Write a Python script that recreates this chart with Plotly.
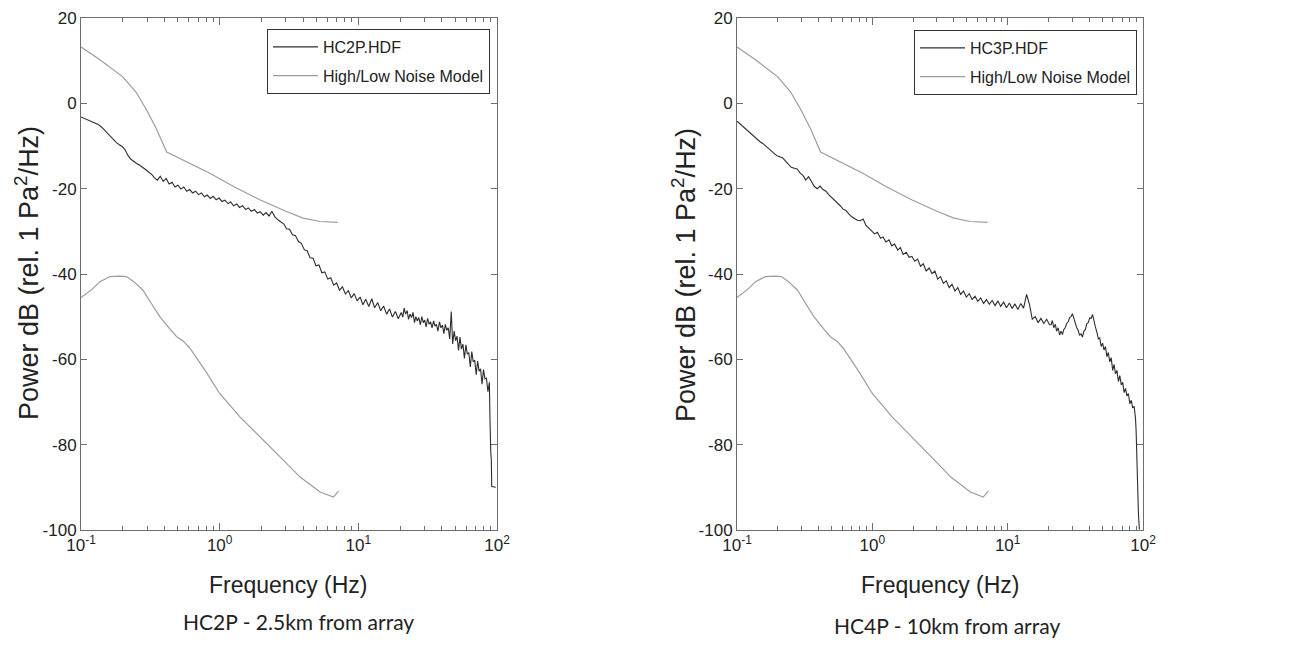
import plotly.graph_objects as go

# shared frequency grid (Hz) for the two measured spectra
freq_grid = [
    0.100, 0.105, 0.110, 0.116, 0.122, 0.128, 0.134, 0.141, 0.148, 0.155,
    0.163, 0.171, 0.180, 0.189, 0.198, 0.208, 0.218, 0.229, 0.240, 0.252,
    0.265, 0.278, 0.292, 0.307, 0.322, 0.338, 0.355, 0.373, 0.392, 0.411,
    0.432, 0.454, 0.476, 0.500, 0.525, 0.551, 0.579, 0.608, 0.638, 0.670,
    0.704, 0.739, 0.776, 0.815, 0.855, 0.898, 0.943, 0.990, 1.04, 1.09,
    1.15, 1.20, 1.26, 1.33, 1.39, 1.46, 1.54, 1.61, 1.69, 1.78,
    1.87, 1.96, 2.06, 2.16, 2.27, 2.38, 2.50, 2.63, 2.76, 2.90,
    3.04, 3.19, 3.35, 3.52, 3.70, 3.88, 4.08, 4.28, 4.49, 4.72,
    4.95, 5.20, 5.46, 5.73, 6.02, 6.32, 6.64, 6.97, 7.32, 7.68,
    8.07, 8.47, 8.89, 9.34, 9.80, 10.3, 10.8, 11.3, 11.9, 12.5,
    13.1, 13.8, 14.5, 15.2, 16.0, 16.8, 17.6, 18.5, 19.4, 20.4,
    20.9, 21.4, 21.9, 22.5, 23.0, 23.6, 24.2, 24.8, 25.4, 26.0,
    26.6, 27.3, 28.0, 28.7, 29.4, 30.1, 30.8, 31.6, 32.4, 33.2,
    34.0, 34.9, 35.7, 36.6, 37.5, 38.5, 39.4, 40.4, 41.4, 42.4,
    43.4, 44.5, 45.6, 46.8, 47.9, 49.1, 50.3, 51.5, 52.8, 54.1,
    55.4, 56.8, 58.2, 59.7, 61.1, 62.6, 64.2, 65.8, 67.4, 69.1,
    70.8, 72.5, 74.3, 76.1, 78.0, 79.9, 81.9, 83.9, 86.0, 88.1,
]

hc2p_db = [
    -3.2, -3.5, -3.8, -4.1, -4.4, -4.7, -5.0, -5.6, -6.3, -7.0,
    -7.8, -8.6, -9.2, -9.7, -10.1, -10.9, -12.2, -13.1, -13.7, -14.1,
    -14.5, -14.9, -15.5, -16.1, -16.6, -17.4, -18.0, -17.1, -18.3, -17.6,
    -18.9, -18.5, -19.6, -19.2, -20.1, -19.6, -20.6, -20.2, -21.0, -20.6,
    -21.4, -21.0, -21.9, -21.5, -22.3, -21.8, -22.6, -22.2, -23.0, -22.7,
    -23.5, -23.1, -24.0, -23.6, -24.4, -24.0, -24.9, -24.5, -25.3, -24.9,
    -25.7, -25.4, -26.2, -25.6, -26.4, -25.3, -26.6, -27.3, -27.9, -28.3,
    -29.4, -29.5, -30.8, -31.0, -32.4, -32.8, -34.3, -34.6, -36.2, -36.3,
    -38.1, -37.9, -39.7, -39.5, -41.2, -40.9, -42.6, -42.1, -43.8, -43.0,
    -44.7, -43.9, -45.6, -44.6, -46.3, -45.4, -47.2, -45.9, -47.6, -45.8,
    -47.9, -46.7, -48.6, -47.5, -49.4, -48.2, -50.1, -48.8, -50.5, -49.0,
    -50.1, -48.0, -49.4, -48.6, -50.6, -49.4, -50.2, -49.0, -51.4, -50.0,
    -51.0, -50.2, -51.9, -50.0, -51.4, -50.8, -52.4, -50.4, -51.8, -51.2,
    -52.6, -51.0, -52.2, -51.8, -53.4, -51.2, -52.6, -52.0, -54.0, -51.8,
    -53.2, -52.6, -55.2, -48.8, -56.4, -53.4, -55.6, -54.6, -57.9, -54.8,
    -57.6, -56.4, -59.8, -56.6, -58.8, -58.4, -61.8, -58.2, -60.6, -60.2,
    -63.6, -60.4, -62.8, -62.2, -65.8, -62.4, -64.6, -64.4, -67.6, -65.4,
]
hc2p_tail_freq = [89.0, 89.5, 90.2, 91.0, 91.6, 98.0]
hc2p_tail_db = [-74.0, -80.5, -82.0, -83.5, -89.8, -90.0]

hc3p_db = [
    -4.2, -4.8, -5.4, -6.1, -6.8, -7.3, -7.9, -8.5, -9.0, -9.4,
    -10.0, -10.8, -11.2, -11.8, -12.3, -12.5, -12.8, -13.6, -14.3, -15.0,
    -15.2, -15.4, -16.3, -16.9, -18.0, -17.2, -18.3, -19.5, -20.0, -19.4,
    -20.2, -20.6, -21.4, -22.0, -22.6, -23.3, -24.0, -24.8, -25.1, -25.9,
    -26.6, -27.0, -27.4, -27.5, -27.1, -28.6, -29.3, -29.8, -30.6, -30.2,
    -31.6, -31.3, -32.5, -32.0, -33.4, -33.0, -34.4, -33.8, -35.4, -34.9,
    -36.1, -35.9, -37.0, -36.5, -38.2, -37.6, -39.3, -38.6, -39.9, -39.3,
    -41.2, -40.6, -42.2, -41.6, -43.2, -42.4, -44.0, -43.2, -44.8, -44.0,
    -45.4, -44.6, -46.0, -45.2, -46.4, -45.6, -46.9, -46.0, -47.1, -46.2,
    -47.4, -46.3, -47.6, -46.6, -47.9, -46.8, -48.1, -47.0, -48.3, -46.9,
    -48.0, -44.8, -47.2, -50.6, -50.0, -51.4, -50.4, -51.6, -50.6, -51.9,
    -51.9, -50.9, -52.6, -51.8, -53.4, -52.6, -54.3, -53.4, -54.2, -53.0,
    -52.6, -51.6, -51.2, -50.2, -50.0, -49.3, -50.4, -51.2, -52.6, -53.2,
    -54.4, -54.0, -54.8, -53.4, -53.0, -51.6, -51.4, -50.3, -50.4, -49.5,
    -51.2, -52.4, -53.6, -55.2, -55.0, -57.0, -56.2, -57.8, -57.0, -59.4,
    -58.4, -60.6, -59.6, -62.6, -61.2, -63.4, -62.6, -65.2, -63.8, -66.0,
    -65.4, -67.8, -66.8, -68.6, -68.0, -70.4, -69.6, -71.4, -71.0, -74.0,
]
hc3p_tail_freq = [89.0, 90.0, 91.0, 92.5, 94.0]
hc3p_tail_db = [-77.0, -85.0, -86.5, -96.0, -99.9]

# high / low noise model
high_freq = [0.1, 0.137, 0.2, 0.25, 0.3, 0.35, 0.415, 0.6, 0.85, 1.26, 1.95, 3.0, 4.0, 5.3, 7.1]
high_db = [13.2, 10.2, 6.2, 2.6, -1.8, -6.0, -11.4, -13.9, -16.4, -19.5, -22.6, -25.3, -26.9, -27.7, -27.9]
low_freq = [0.1, 0.12, 0.137, 0.162, 0.19, 0.213, 0.24, 0.28, 0.32, 0.37, 0.44, 0.49, 0.55,
            0.61, 0.8, 1.0, 1.4, 2.18, 3.0, 3.8, 5.3, 6.6, 7.2]
low_db = [-45.5, -43.6, -41.8, -40.6, -40.5, -40.6, -41.8, -43.8, -46.8, -50.0, -53.0, -54.7, -55.8,
          -57.4, -63.0, -68.0, -73.5, -79.6, -84.2, -87.6, -91.1, -92.3, -90.9]

decade_ticks = [0.1, 1, 10, 100]
decade_labels = ["10<sup>-1</sup>", "10<sup>0</sup>", "10<sup>1</sup>", "10<sup>2</sup>"]
minor_ticks = [0.2, 0.3, 0.4, 0.5, 0.6, 0.7, 0.8, 0.9, 2, 3, 4, 5, 6, 7, 8, 9,
               20, 30, 40, 50, 60, 70, 80, 90]
y_ticks = [20, 0, -20, -40, -60, -80, -100]
y_labels = ["20", "0", "-20", "-40", "-60", "-80", "-100"]

# the page body adds an 8 px margin, so the figure is drawn 8 px in from the corner
OFF = 8
W, H = 1298 - 2 * OFF, 646 - 2 * OFF
dark = "#2e2e2e"
grey = "#9c9c9c"
axis_col = "#6e6e6e"
arial = "Liberation Sans, Arial, sans-serif"


def px_x(px):
    return (px - OFF) / W


def px_y(py):
    return 1 - (py - OFF) / H


fig = go.Figure()


def panel(xa, ya, leg, name, f, db):
    fig.add_trace(go.Scatter(x=f, y=db, mode="lines", name=name, line=dict(color=dark, width=1.1),
                             xaxis=xa, yaxis=ya, legend=leg, legendgroup=name))
    fig.add_trace(go.Scatter(x=high_freq, y=high_db, mode="lines", name="High/Low Noise Model",
                             line=dict(color=grey, width=1.2), xaxis=xa, yaxis=ya, legend=leg,
                             legendgroup="model" + xa))
    fig.add_trace(go.Scatter(x=low_freq, y=low_db, mode="lines", showlegend=False,
                             line=dict(color=grey, width=1.2), xaxis=xa, yaxis=ya, legend=leg,
                             legendgroup="model" + xa))


panel("x", "y", "legend", "HC2P.HDF", freq_grid + hc2p_tail_freq, hc2p_db + hc2p_tail_db)
panel("x2", "y2", "legend2", "HC3P.HDF", freq_grid + hc3p_tail_freq, hc3p_db + hc3p_tail_db)


def xax(x0, x1, anchor):
    return dict(type="log", range=[-1, 2], domain=[px_x(x0), px_x(x1)], anchor=anchor, automargin=False,
                tickvals=decade_ticks, ticktext=decade_labels, ticks="inside", ticklen=7,
                tickcolor=axis_col, showline=True, linecolor=axis_col, linewidth=1,
                mirror="allticks", showgrid=False, zeroline=False,
                minor=dict(tickvals=minor_ticks, ticks="inside", ticklen=4, tickcolor=axis_col, showgrid=False),
                tickfont=dict(family=arial, size=17, color="#222"))


def yax(anchor):
    return dict(range=[-100, 20], domain=[px_y(530), px_y(18)], anchor=anchor, automargin=False,
                tickvals=y_ticks, ticktext=y_labels, ticks="inside", ticklen=6, tickcolor=axis_col,
                showline=True, linecolor=axis_col, linewidth=1, mirror="allticks",
                showgrid=False, zeroline=False,
                tickfont=dict(family=arial, size=17, color="#222"))


def leg(xr, yt):
    return dict(x=px_x(xr), y=px_y(yt), xanchor="right", yanchor="top", bgcolor="white",
                bordercolor="#333", borderwidth=1, traceorder="grouped", tracegroupgap=5,
                itemwidth=45, font=dict(family=arial, size=16, color="#222"))


fig.update_layout(
    width=W, height=H, margin=dict(l=0, r=0, t=0, b=0),
    paper_bgcolor="white", plot_bgcolor="white",
    xaxis=xax(81, 497, "y"), yaxis=yax("x"),
    xaxis2=xax(737, 1143, "y2"), yaxis2=yax("x2"),
    legend=leg(490, 29), legend2=leg(1137, 30),
)

ann = [
    ("Power dB (rel. 1 Pa<sup>2</sup>/Hz)", 27, 273, 27, arial, -90),
    ("Power dB (rel. 1 Pa<sup>2</sup>/Hz)", 684, 275, 27, arial, -90),
    ("Frequency (Hz)", 288, 585, 23, arial, 0),
    ("Frequency (Hz)", 940, 585, 23, arial, 0),
    ("HC2P - 2.5km from array", 298, 621, 21, "Lato, sans-serif", 0),
    ("HC4P - 10km from array", 947, 625, 21, "Lato, sans-serif", 0),
]
for text, cx, cy, size, fam, ang in ann:
    fig.add_annotation(text=text, x=px_x(cx), y=px_y(cy), xref="paper", yref="paper",
                       xanchor="center", yanchor="middle", showarrow=False, textangle=ang,
                       font=dict(family=fam, size=size, color="#222"))

fig.write_html("out.html")
